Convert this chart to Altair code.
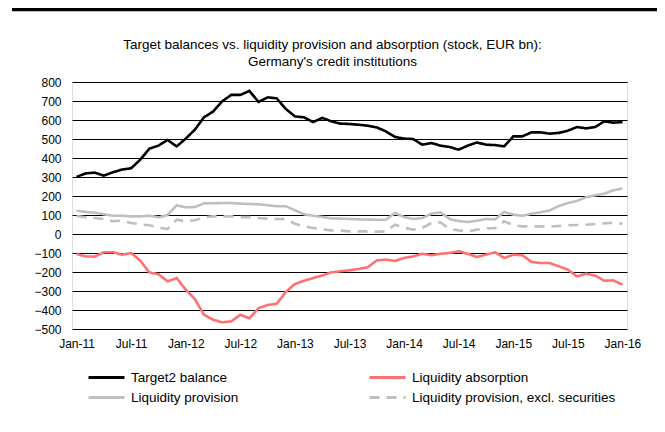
import altair as alt
import pandas as pd

months = [d.strftime("%b-%y") for d in pd.date_range("2011-01-01", "2016-01-01", freq="MS")]

target2 = [300, 319, 323, 307, 325, 339, 346, 391, 449, 465, 495, 461, 502, 549, 614, 644,
           698, 732, 732, 753, 695, 719, 714, 658, 619, 614, 589, 611, 593, 581, 579, 575,
           570, 561, 540, 511, 502, 500, 470, 479, 465, 458, 444, 465, 482, 470, 468, 461,
           514, 514, 535, 535, 528, 532, 544, 563, 556, 563, 593, 586, 589]
absorption = [-105, -118, -119, -96, -96, -109, -100, -140, -202, -212, -249, -232, -293, -342,
              -425, -451, -465, -460, -425, -444, -390, -374, -367, -305, -263, -246, -232,
              -219, -202, -196, -191, -184, -175, -139, -135, -142, -126, -118, -104, -112,
              -104, -100, -91, -104, -121, -109, -96, -126, -109, -112, -147, -153, -153,
              -170, -188, -223, -209, -219, -246, -244, -267]
provision = [123, 116, 112, 104, 96, 96, 93, 93, 96, 88, 100, 151, 140, 142, 161, 162, 163,
             163, 160, 158, 156, 152, 146, 146, 125, 104, 96, 90, 82, 81, 79, 77, 76, 75, 75,
             111, 89, 79, 84, 107, 114, 79, 68, 63, 70, 79, 77, 116, 102, 96, 107, 114, 124,
             147, 163, 174, 193, 204, 212, 230, 240]
provision_ex = [95, 88, 84, 79, 67, 70, 58, 51, 46, 35, 26, 75, 67, 72, 88, 93, 93, 93, 89,
                89, 84, 81, 79, 79, 54, 40, 32, 25, 19, 18, 14, 14, 14, 12, 14, 49, 33, 23,
                32, 58, 61, 26, 19, 14, 23, 30, 30, 67, 46, 40, 40, 40, 39, 42, 46, 47, 49,
                53, 56, 60, 54]

series_names = ["Target2 balance", "Liquidity provision", "Liquidity absorption",
                "Liquidity provision, excl. securities"]
series_values = [target2, provision, absorption, provision_ex]
colors = ["#000000", "#BFBFBF", "#FF7171", "#BFBFBF"]
dashes = [[1, 0], [1, 0], [1, 0], [10, 7]]
tick_idx = list(range(0, 61, 6))
title_lines = ["Target balances vs. liquidity provision and absorption (stock, EUR bn):",
               "Germany's credit institutions"]

rows = []
for name, vals in zip(series_names, series_values):
    for i, v in enumerate(vals):
        rows.append({"idx": i, "month": months[i], "value": v, "series": name})
df = pd.DataFrame(rows)

label_js = "[" + ",".join("'" + m + "'" for m in months) + "]"
FONT = "Liberation Sans"

lines = alt.Chart(df).mark_line(strokeWidth=2.6).encode(
    x=alt.X("idx:Q", scale=alt.Scale(domain=[-0.5, 60.5], nice=False, zero=False),
            axis=alt.Axis(values=tick_idx, labelExpr=label_js + "[datum.value]", grid=False,
                          domain=False, ticks=False, tickSize=0, labelPadding=9,
                          labelFontSize=12, labelColor="black", labelFont=FONT, title=None)),
    y=alt.Y("value:Q", scale=alt.Scale(domain=[-500, 800], nice=False),
            axis=alt.Axis(values=list(range(-500, 801, 100)), grid=True, gridColor="black",
                          gridWidth=1, gridOpacity=1, domain=False, ticks=False, tickSize=0,
                          labelPadding=11, labelFontSize=12, labelColor="black",
                          labelFont=FONT, title=None)),
    color=alt.Color("series:N", scale=alt.Scale(domain=series_names, range=colors),
                    sort=series_names,
                    legend=alt.Legend(title=None, orient="none", legendX=23, legendY=284,
                                      columns=2, columnPadding=124, rowPadding=2,
                                      symbolType="M-1.8,0H1.8", symbolSize=400,
                                      symbolStrokeWidth=3, labelFontSize=13.5,
                                      labelFont=FONT, labelColor="black", labelOffset=13,
                                      labelLimit=400)),
    strokeDash=alt.StrokeDash("series:N", scale=alt.Scale(domain=series_names, range=dashes),
                              sort=series_names, legend=None),
    detail="series:N",
    order="idx:Q",
)

top_bar = alt.Chart(alt.Data(values=[{}])).mark_rule(color="black", strokeWidth=3.5).encode(
    x=alt.value(-60), x2=alt.value(585), y=alt.value(-72.5)
)

title = alt.Chart(alt.Data(values=[{}])).mark_text(
    font=FONT, fontSize=13.5, color="black", align="center", baseline="alphabetic",
    lineHeight=17
).encode(x=alt.value(260.5), y=alt.value(-33), text=alt.value(title_lines))

chart = alt.layer(lines, top_bar, title).properties(
    width=555, height=247,
    padding={"left": 64, "top": 74, "right": 30, "bottom": 90},
    autosize=alt.AutoSizeParams(type="none"),
).configure_view(stroke=None).configure(background="white")

chart.save("out.html", embed_options={"renderer": "svg", "actions": False})
